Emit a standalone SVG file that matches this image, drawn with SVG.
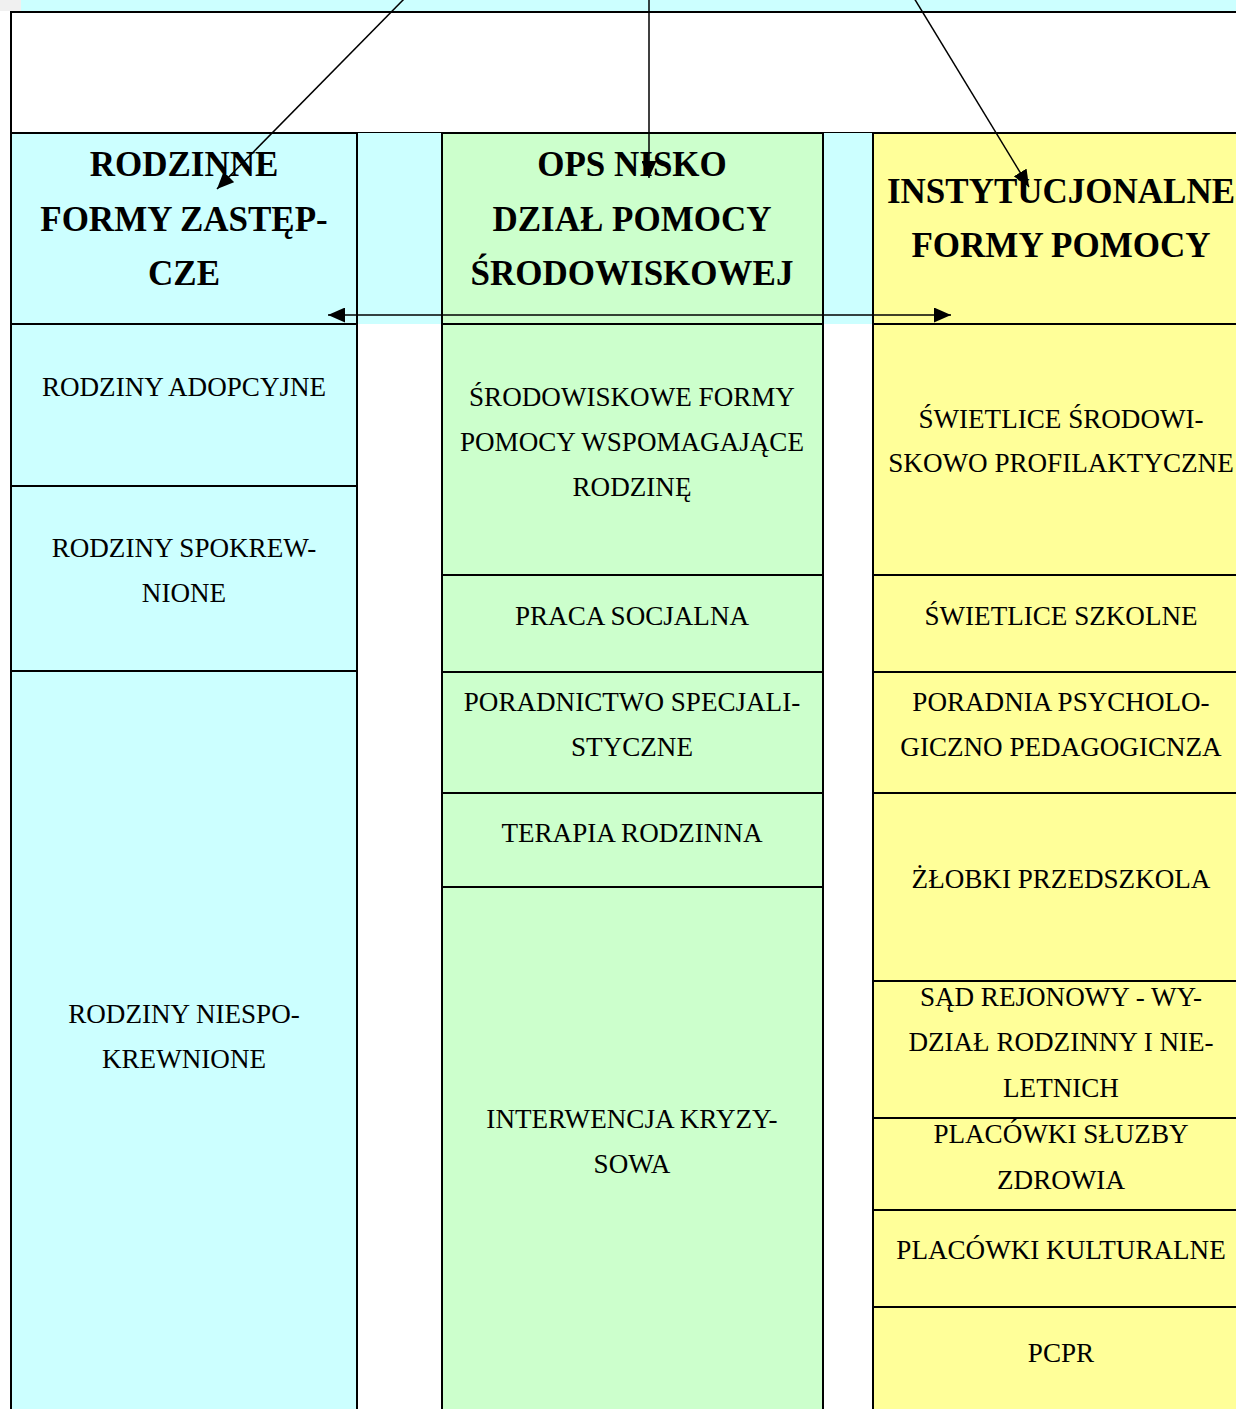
<svg xmlns="http://www.w3.org/2000/svg" width="1236" height="1409" viewBox="0 0 1236 1409">
<style>
.c{fill:#CCFFFF;stroke:#000;stroke-width:2}
.g{fill:#CCFFCC;stroke:#000;stroke-width:2}
.y{fill:#FFFF99;stroke:#000;stroke-width:2}
text{font-family:"Liberation Serif","Times New Roman",serif;fill:#000;text-anchor:middle}
.t{font-size:27.1px}
.h{font-size:35px;font-weight:bold}
.a{stroke:#000;stroke-width:1.5;fill:none}
</style>
<defs>
<marker id="ah" markerUnits="userSpaceOnUse" markerWidth="17" markerHeight="15" refX="17" refY="7.5" orient="auto-start-reverse" viewBox="0 0 17 15">
<path d="M0,0 L17,7.5 L0,15 z" fill="#000"/>
</marker>
</defs>
<rect x="0" y="0" width="1236" height="1409" fill="#fff"/>
<g id="top">
<rect x="0" y="0" width="21" height="11" fill="#f0f0f0"/>
<rect x="21" y="0" width="1215" height="11" fill="#CCFFFF"/>
<rect x="11" y="12" width="1240" height="121" fill="#fff" stroke="#000" stroke-width="2"/>
<rect x="357" y="133" width="85" height="191" fill="#CCFFFF"/>
<rect x="823" y="133" width="50" height="191" fill="#CCFFFF"/>
</g>
<g id="col-left">
<rect class="c" x="11" y="133" width="346" height="191"/>
<rect class="c" x="11" y="324" width="346" height="162"/>
<rect class="c" x="11" y="486" width="346" height="185"/>
<rect class="c" x="11" y="671" width="346" height="760"/>
<text class="h" x="184" y="176">RODZINNE</text>
<text class="h" x="184" y="231">FORMY ZASTĘP-</text>
<text class="h" x="184" y="285">CZE</text>
<text class="t" x="184" y="396">RODZINY ADOPCYJNE</text>
<text class="t" x="184" y="557">RODZINY SPOKREW-</text>
<text class="t" x="184" y="602">NIONE</text>
<text class="t" x="184" y="1023">RODZINY NIESPO-</text>
<text class="t" x="184" y="1068">KREWNIONE</text>
</g>
<g id="col-middle">
<rect class="g" x="442" y="133" width="381" height="191"/>
<rect class="g" x="442" y="324" width="381" height="251"/>
<rect class="g" x="442" y="575" width="381" height="97"/>
<rect class="g" x="442" y="672" width="381" height="121"/>
<rect class="g" x="442" y="793" width="381" height="94"/>
<rect class="g" x="442" y="887" width="381" height="544"/>
<text class="h" x="632" y="176">OPS NISKO</text>
<text class="h" x="632" y="231">DZIAŁ POMOCY</text>
<text class="h" x="632" y="285">ŚRODOWISKOWEJ</text>
<text class="t" x="632" y="406">ŚRODOWISKOWE FORMY</text>
<text class="t" x="632" y="451">POMOCY WSPOMAGAJĄCE</text>
<text class="t" x="632" y="496">RODZINĘ</text>
<text class="t" x="632" y="625">PRACA SOCJALNA</text>
<text class="t" x="632" y="711">PORADNICTWO SPECJALI-</text>
<text class="t" x="632" y="756">STYCZNE</text>
<text class="t" x="632" y="842">TERAPIA RODZINNA</text>
<text class="t" x="632" y="1128">INTERWENCJA KRYZY-</text>
<text class="t" x="632" y="1173">SOWA</text>
</g>
<g id="col-right">
<rect class="y" x="873" y="133" width="380" height="191"/>
<rect class="y" x="873" y="324" width="380" height="251"/>
<rect class="y" x="873" y="575" width="380" height="97"/>
<rect class="y" x="873" y="672" width="380" height="121"/>
<rect class="y" x="873" y="793" width="380" height="188"/>
<rect class="y" x="873" y="981" width="380" height="137"/>
<rect class="y" x="873" y="1118" width="380" height="92"/>
<rect class="y" x="873" y="1210" width="380" height="97"/>
<rect class="y" x="873" y="1307" width="380" height="124"/>
<text class="h" x="1061" y="203">INSTYTUCJONALNE</text>
<text class="h" x="1061" y="257">FORMY POMOCY</text>
<text class="t" x="1061" y="428">ŚWIETLICE ŚRODOWI-</text>
<text class="t" x="1061" y="472">SKOWO PROFILAKTYCZNE</text>
<text class="t" x="1061" y="625">ŚWIETLICE SZKOLNE</text>
<text class="t" x="1061" y="711">PORADNIA PSYCHOLO-</text>
<text class="t" x="1061" y="756">GICZNO PEDAGOGICNZA</text>
<text class="t" x="1061" y="888">ŻŁOBKI PRZEDSZKOLA</text>
<text class="t" x="1061" y="1006">SĄD REJONOWY - WY-</text>
<text class="t" x="1061" y="1051">DZIAŁ RODZINNY I NIE-</text>
<text class="t" x="1061" y="1097">LETNICH</text>
<text class="t" x="1061" y="1143">PLACÓWKI SŁUZBY</text>
<text class="t" x="1061" y="1189">ZDROWIA</text>
<text class="t" x="1061" y="1259">PLACÓWKI KULTURALNE</text>
<text class="t" x="1061" y="1362">PCPR</text>
</g>
<g id="connectors">
<line class="a" x1="405" y1="-2" x2="217" y2="189" marker-end="url(#ah)"/>
<line class="a" x1="649" y1="-2" x2="649" y2="178" marker-end="url(#ah)"/>
<line class="a" x1="914" y1="-2" x2="1029" y2="187" marker-end="url(#ah)"/>
<line class="a" x1="328" y1="315" x2="951" y2="315" marker-start="url(#ah)" marker-end="url(#ah)"/>
</g>
</svg>
